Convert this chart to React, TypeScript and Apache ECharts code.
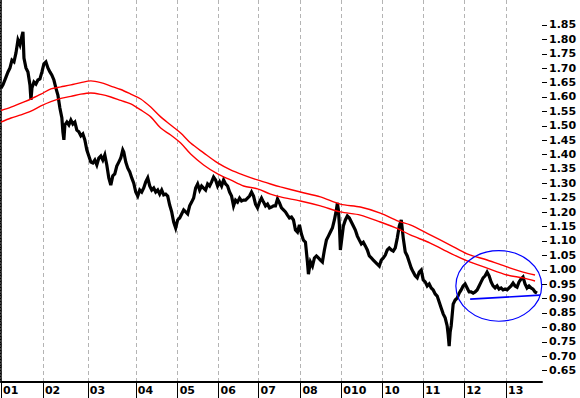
import React, { useEffect, useRef } from 'react';
import * as echarts from 'echarts';

// period index (trading-bar position) where each year begins, and its label
const periodTicks = [0, 42, 87, 135, 177, 218, 258, 300, 341, 382, 423, 464, 506];
const periodLabels = ['01', '02', '03', '04', '05', '06', '07', '08', '010', '10', '11', '12', '13'];

// right-axis labelled price levels
const priceLevels = [
  0.65, 0.7, 0.75, 0.8, 0.85, 0.9, 0.95, 1.0, 1.05, 1.1, 1.15, 1.2, 1.25,
  1.3, 1.35, 1.4, 1.45, 1.5, 1.55, 1.6, 1.65, 1.7, 1.75, 1.8, 1.85,
];

// price (period index, value)
const price: [number, number][] = [
  [0, 1.631], [2, 1.642], [5, 1.669], [7, 1.687], [9, 1.701], [11, 1.728], [13, 1.722], [15, 1.753],
  [17, 1.798], [19, 1.781], [21, 1.812], [22, 1.826], [23, 1.735], [25, 1.701], [27, 1.687], [29, 1.642],
  [30, 1.59], [31, 1.631], [33, 1.652], [35, 1.645], [37, 1.659], [39, 1.663], [41, 1.687], [43, 1.715],
  [45, 1.722], [47, 1.701], [49, 1.687], [51, 1.676], [53, 1.659], [55, 1.631], [57, 1.607], [59, 1.562],
  [61, 1.527], [62, 1.479], [63, 1.451], [64, 1.503], [66, 1.513], [68, 1.503], [70, 1.52], [72, 1.506],
  [74, 1.513], [76, 1.485], [78, 1.479], [80, 1.465], [82, 1.472], [84, 1.451], [86, 1.416], [88, 1.395],
  [90, 1.374], [92, 1.371], [94, 1.381], [96, 1.364], [98, 1.388], [100, 1.395], [102, 1.381], [104, 1.399],
  [106, 1.364], [108, 1.319], [110, 1.294], [112, 1.326], [114, 1.333], [116, 1.36], [118, 1.374], [120, 1.388],
  [122, 1.416], [123, 1.409], [125, 1.374], [127, 1.353], [129, 1.34], [131, 1.319], [133, 1.301], [135, 1.27],
  [137, 1.256], [139, 1.277], [141, 1.27], [143, 1.284], [145, 1.305], [147, 1.319], [149, 1.291], [151, 1.277],
  [153, 1.284], [155, 1.27], [157, 1.277], [159, 1.263], [161, 1.277], [163, 1.26], [165, 1.263], [167, 1.256],
  [169, 1.225], [171, 1.201], [173, 1.166], [175, 1.145], [177, 1.173], [179, 1.18], [181, 1.194], [183, 1.208],
  [185, 1.201], [187, 1.194], [189, 1.222], [191, 1.235], [193, 1.249], [195, 1.284], [197, 1.298], [199, 1.277],
  [201, 1.291], [203, 1.284], [205, 1.277], [207, 1.298], [209, 1.291], [211, 1.305], [213, 1.322], [215, 1.312],
  [217, 1.291], [219, 1.305], [221, 1.291], [223, 1.312], [225, 1.298], [227, 1.291], [229, 1.27], [231, 1.256],
  [233, 1.222], [235, 1.242], [237, 1.235], [239, 1.249], [241, 1.239], [243, 1.242], [245, 1.242], [247, 1.249],
  [249, 1.256], [251, 1.27], [253, 1.256], [255, 1.228], [257, 1.215], [259, 1.235], [261, 1.249], [263, 1.235],
  [265, 1.222], [267, 1.228], [269, 1.215], [271, 1.218], [273, 1.222], [275, 1.222], [277, 1.246], [279, 1.232],
  [281, 1.215], [283, 1.208], [285, 1.201], [287, 1.19], [289, 1.18], [291, 1.183], [293, 1.173], [295, 1.138],
  [297, 1.131], [299, 1.156], [301, 1.124], [303, 1.103], [305, 1.096], [307, 1.027], [308, 0.985], [310, 1.027],
  [312, 1.013], [314, 1.041], [316, 1.048], [318, 1.041], [320, 1.034], [322, 1.027], [324, 1.069], [326, 1.103],
  [328, 1.117], [330, 1.131], [332, 1.145], [334, 1.173], [336, 1.208], [337, 1.232], [338, 1.208], [339, 1.156],
  [340, 1.069], [341, 1.096], [343, 1.152], [345, 1.173], [347, 1.187], [349, 1.18], [351, 1.166], [353, 1.152],
  [355, 1.138], [357, 1.117], [359, 1.103], [361, 1.09], [363, 1.096], [365, 1.083], [367, 1.069], [369, 1.048],
  [371, 1.041], [373, 1.034], [375, 1.027], [377, 1.02], [379, 1.013], [381, 1.034], [383, 1.041], [385, 1.051],
  [387, 1.069], [389, 1.076], [391, 1.069], [393, 1.065], [395, 1.076], [397, 1.11], [399, 1.152], [401, 1.173],
  [403, 1.11], [405, 1.062], [407, 1.048], [409, 1.027], [411, 1.006], [413, 0.992], [415, 0.979], [417, 0.972],
  [419, 0.992], [421, 0.999], [423, 0.965], [425, 0.958], [427, 0.944], [429, 0.951], [431, 0.937], [433, 0.93],
  [435, 0.916], [437, 0.909], [439, 0.888], [441, 0.867], [443, 0.847], [445, 0.833], [447, 0.805], [448, 0.774],
  [449, 0.735], [450, 0.784], [451, 0.805], [453, 0.881], [455, 0.895], [457, 0.902], [459, 0.919], [461, 0.93],
  [463, 0.944], [465, 0.951], [467, 0.937], [469, 0.923], [471, 0.923], [473, 0.919], [475, 0.923], [477, 0.93],
  [479, 0.944], [481, 0.958], [483, 0.972], [485, 0.979], [487, 0.992], [489, 0.979], [491, 0.958], [493, 0.944],
  [495, 0.937], [497, 0.944], [499, 0.933], [501, 0.937], [503, 0.93], [505, 0.933], [507, 0.93], [509, 0.937],
  [511, 0.944], [513, 0.954], [515, 0.944], [517, 0.94], [519, 0.958], [521, 0.968], [523, 0.975], [525, 0.951],
  [527, 0.937], [529, 0.944], [531, 0.937], [533, 0.933], [535, 0.923], [537, 0.919],
];

// moving-average envelope, upper band
const upperBand: [number, number][] = [
  [0, 1.553], [10, 1.565], [20, 1.579], [30, 1.593], [40, 1.61], [50, 1.628], [60, 1.635], [70, 1.642],
  [80, 1.65], [90, 1.656], [100, 1.65], [110, 1.638], [120, 1.626], [130, 1.61], [140, 1.593], [150, 1.565],
  [160, 1.531], [170, 1.503], [180, 1.475], [190, 1.44], [203, 1.406], [217, 1.371], [230, 1.347], [243, 1.329],
  [257, 1.312], [270, 1.298], [280, 1.288], [300, 1.27], [320, 1.253], [340, 1.228], [360, 1.218], [380, 1.197],
  [398, 1.169], [410, 1.156], [430, 1.121], [450, 1.086], [467, 1.055], [487, 1.034], [507, 1.01], [523, 0.992],
  [535, 0.982],
];

// moving-average envelope, lower band
const lowerBand: [number, number][] = [
  [0, 1.513], [10, 1.527], [20, 1.538], [30, 1.551], [40, 1.569], [50, 1.584], [60, 1.595], [70, 1.602],
  [80, 1.61], [90, 1.614], [100, 1.609], [110, 1.6], [120, 1.588], [130, 1.576], [140, 1.555], [150, 1.531],
  [160, 1.492], [170, 1.468], [180, 1.44], [190, 1.402], [203, 1.364], [217, 1.333], [230, 1.312], [243, 1.291],
  [257, 1.281], [270, 1.263], [280, 1.253], [300, 1.239], [320, 1.222], [340, 1.201], [360, 1.19], [380, 1.166],
  [398, 1.142], [410, 1.121], [430, 1.093], [450, 1.058], [467, 1.031], [487, 1.006], [507, 0.982], [523, 0.972],
  [535, 0.961],
];

// support trend line and highlighted zone (period index, value)
const supportLine: [number, number][] = [[470, 0.898], [540, 0.912]];
const zoneCenter: [number, number] = [498.7, 0.944];
const zoneRadius: [number, number] = [43, 0.1226];

const AXIS_MIN = 0.6104;
const AXIS_MAX = 1.9368;
const FONT = 'DejaVu Sans';

export default function App() {
  const ref = useRef<HTMLDivElement>(null);

  useEffect(() => {
    if (!ref.current) return;
    const chart = echarts.init(ref.current, null, { renderer: 'svg' });
    const minorLevels: number[] = [];
    for (let k = 62; k <= 193; k++) minorLevels.push(k / 100);

    chart.setOption({
      animation: false,
      backgroundColor: '#ffffff',
      grid: { left: 0, right: 38, top: 0, bottom: 16, containLabel: false },
      xAxis: {
        type: 'value',
        min: 0,
        max: 542,
        axisLine: { show: true, lineStyle: { color: '#000', width: 2 } },
        axisTick: {
          show: true,
          customValues: periodTicks,
          length: 16,
          inside: false,
          lineStyle: { color: '#000', width: 1 },
        },
        axisLabel: {
          show: true,
          customValues: periodTicks,
          formatter: (v: number) => {
            const i = periodTicks.indexOf(Math.round(v));
            return i >= 0 ? periodLabels[i] : '';
          },
          align: 'left',
          padding: [0, 0, 0, 2],
          margin: 3,
          color: '#000',
          fontFamily: FONT,
          fontWeight: 'bold',
          fontSize: 11,
        },
        splitLine: {
          show: true,
          lineStyle: { color: '#b4b4b4', type: [4, 3], width: 1 },
        },
      },
      yAxis: [
        {
          type: 'value',
          position: 'right',
          min: AXIS_MIN,
          max: AXIS_MAX,
          axisLine: { show: true, lineStyle: { color: '#000', width: 1.5 } },
          axisTick: {
            show: true,
            customValues: minorLevels,
            length: 3,
            inside: true,
            lineStyle: { color: '#000', width: 1 },
          },
          axisLabel: { show: false },
          splitLine: { show: false },
        },
        {
          type: 'value',
          position: 'right',
          min: AXIS_MIN,
          max: AXIS_MAX,
          axisLine: { show: false },
          axisTick: {
            show: true,
            customValues: priceLevels,
            length: 5,
            inside: false,
            lineStyle: { color: '#000', width: 1 },
          },
          axisLabel: {
            show: true,
            customValues: priceLevels,
            formatter: (v: number) => v.toFixed(2),
            margin: 7,
            color: '#000',
            fontFamily: FONT,
            fontWeight: 'bold',
            fontSize: 11,
          },
          splitLine: { show: false },
        },
      ],
      series: [
        {
          type: 'line',
          name: 'price',
          yAxisIndex: 0,
          data: price,
          showSymbol: false,
          symbol: 'none',
          lineStyle: { color: '#000', width: 3.2, join: 'miter' },
          z: 2,
        },
        {
          type: 'line',
          name: 'upper',
          yAxisIndex: 0,
          data: upperBand,
          showSymbol: false,
          symbol: 'none',
          smooth: 0.3,
          lineStyle: { color: '#ff0000', width: 1.4 },
          z: 3,
        },
        {
          type: 'line',
          name: 'lower',
          yAxisIndex: 0,
          data: lowerBand,
          showSymbol: false,
          symbol: 'none',
          smooth: 0.3,
          lineStyle: { color: '#ff0000', width: 1.4 },
          z: 3,
        },
        {
          type: 'line',
          name: 'support',
          yAxisIndex: 0,
          data: supportLine,
          showSymbol: false,
          symbol: 'none',
          lineStyle: { color: '#0000ff', width: 1.6 },
          z: 4,
        },
      ],
    });

    const c = chart.convertToPixel({ gridIndex: 0 }, zoneCenter) as number[];
    const e = chart.convertToPixel({ gridIndex: 0 }, [
      zoneCenter[0] + zoneRadius[0],
      zoneCenter[1] + zoneRadius[1],
    ]) as number[];
    chart.setOption({
      graphic: [
        {
          type: 'ellipse',
          silent: true,
          z: 10,
          shape: { cx: c[0], cy: c[1], rx: Math.abs(e[0] - c[0]), ry: Math.abs(c[1] - e[1]) },
          style: { fill: 'none', stroke: '#0000ff', lineWidth: 1.2 },
        },
      ],
    });

    return () => chart.dispose();
  }, []);

  return (
    <div
      ref={ref}
      style={{ position: 'fixed', left: 0, top: 0, width: 580, height: 398 }}
    />
  );
}
